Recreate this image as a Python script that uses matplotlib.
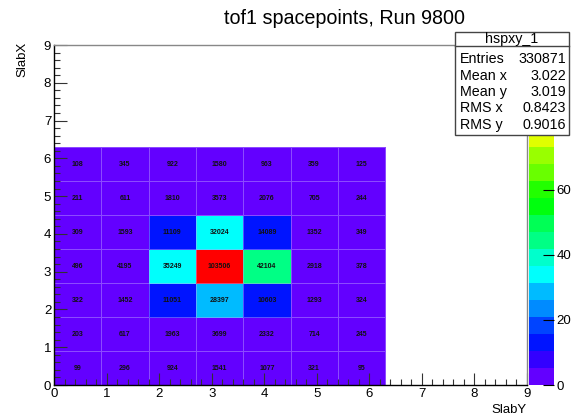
import colorsys
import numpy as np
import matplotlib
matplotlib.use("Agg")
import matplotlib.pyplot as plt
from matplotlib.colors import ListedColormap, BoundaryNorm
from matplotlib.ticker import MultipleLocator

plt.rcParams['font.family'] = ['Liberation Sans', 'DejaVu Sans']

# counts per slab, rows = SlabX 0..6 (bottom to top), cols = SlabY 0..6
counts = np.array([
    [99, 296, 924, 1541, 1077, 321, 95],
    [203, 617, 1963, 3699, 2332, 714, 245],
    [322, 1452, 11051, 28397, 10603, 1293, 324],
    [496, 4195, 35249, 103506, 42104, 2918, 378],
    [309, 1593, 11109, 32024, 14089, 1352, 349],
    [211, 611, 1810, 3573, 2076, 705, 244],
    [108, 345, 922, 1580, 963, 359, 125],
])
bin_edges = np.linspace(0, 6.3, 8)
title = "tof1 spacepoints, Run 9800"
stats_name = "hspxy_1"
stats_labels = ["Entries", "Mean x", "Mean y", "RMS x", "RMS y"]
stats_values = ["330871", "3.022", "3.019", "0.8423", "0.9016"]
cbar_ticks = [0, 20000, 40000, 60000]
cbar_labels = ['0', '20', '40', '60']

# ROOT "pretty" palette (50 colours), sampled at 20 contour levels
ndivz = 20
npal = 50
pal = [colorsys.hls_to_rgb((280 - (i + 1) * 280 / npal) / 360, 0.5, 1) for i in range(npal)]
colors = [pal[int((k + 0.99) * npal / ndivz)] for k in range(ndivz)]
cmap = ListedColormap(colors)
zmax = counts.max() * 1.01
levels = np.linspace(0, zmax, ndivz + 1)
norm = BoundaryNorm(levels, ndivz)

fig = plt.figure(figsize=(5.77, 4.15), dpi=100)
W, H = 577, 415
ax = fig.add_axes([54 / W, (H - 385) / H, 473 / W, 340 / H])
cax = fig.add_axes([529 / W, (H - 385) / H, 25 / W, 340 / H])

mesh = ax.pcolormesh(bin_edges, bin_edges, counts, cmap=cmap, norm=norm,
                     edgecolors=(0.75, 0.65, 1.0, 0.45), linewidth=0.6)
centers = (bin_edges[:-1] + bin_edges[1:]) / 2
for i, yc in enumerate(centers):
    for j, xc in enumerate(centers):
        ax.text(xc, yc, str(counts[i, j]), ha='center', va='center',
                fontsize=5, fontweight='bold', color='#111111')

ax.set_xlim(0, 9)
ax.set_ylim(0, 9)
for a in (ax.xaxis, ax.yaxis):
    a.set_major_locator(MultipleLocator(1))
    a.set_minor_locator(MultipleLocator(0.2))
ax.tick_params(which='both', direction='in', top=False, right=False,
               labelsize=9.5, color='#333333', width=0.8)
ax.tick_params(which='major', length=9, pad=2)
ax.tick_params(which='minor', length=4.5)
for s in ax.spines.values():
    s.set_color('#888888')
    s.set_linewidth(1.0)
ax.spines['left'].set_color('black')
ax.spines['bottom'].set_color('black')

fig.text(22 / W, 1 - 42 / H, "SlabX", rotation=90, ha='center', va='top', fontsize=9.5)
fig.text(527 / W, 1 - 410 / H, "SlabY", ha='right', va='center', fontsize=9.5)
fig.text(345 / W, 1 - 18 / H, title, ha='center', va='center', fontsize=14.2)

cb = fig.colorbar(mesh, cax=cax, ticks=cbar_ticks)
cb.ax.set_yticklabels(cbar_labels)
cb.outline.set_visible(False)
cb.ax.tick_params(direction='in', length=8, width=0.8, labelsize=9.5, pad=2)
cb.ax.minorticks_off()

# stats box
bx0, bx1, by0, by1, hy = 455, 569, 32, 135, 46
box = plt.Rectangle((bx0 / W, 1 - by1 / H), (bx1 - bx0) / W, (by1 - by0) / H,
                    transform=fig.transFigure, facecolor='white', edgecolor='#444444',
                    linewidth=1.0, zorder=5)
fig.add_artist(box)
fig.add_artist(plt.Line2D([bx0 / W, bx1 / W], [1 - hy / H, 1 - hy / H],
                          transform=fig.transFigure, color='#444444', linewidth=1.0, zorder=6))
fig.text((bx0 + bx1) / 2 / W, 1 - 39 / H, stats_name, ha='center', va='center',
         fontsize=10.3, zorder=7)
row_y = [59, 75.5, 92, 108.5, 125]
for lab, val, yy in zip(stats_labels, stats_values, row_y):
    fig.text(460 / W, 1 - yy / H, lab, ha='left', va='center', fontsize=10.3, zorder=7)
    fig.text(566 / W, 1 - yy / H, val, ha='right', va='center', fontsize=10.3, zorder=7)

fig.savefig("out.png", dpi=100)
